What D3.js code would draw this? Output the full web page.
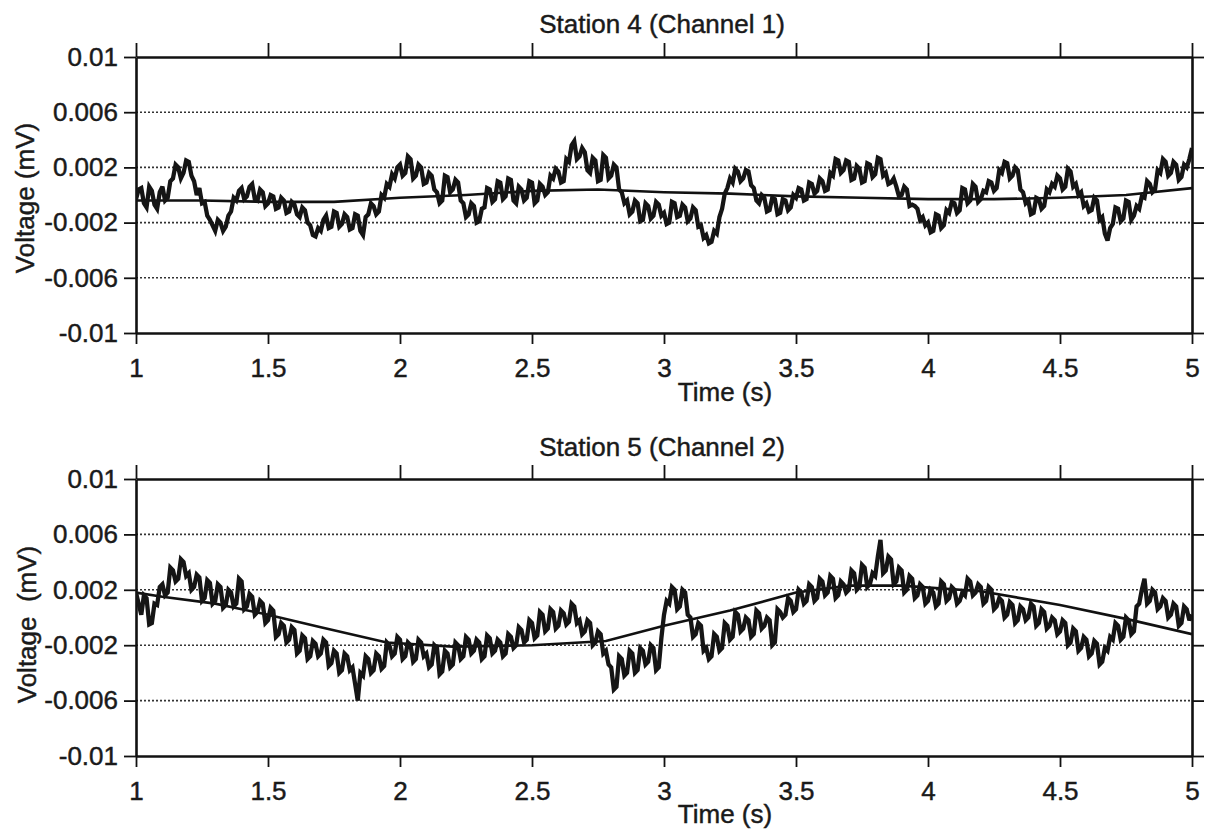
<!DOCTYPE html>
<html>
<head>
<meta charset="utf-8">
<script src="https://cdn.jsdelivr.net/npm/d3@7"></script>
<style>
  body { margin: 0; background: #fff; }
  text { font-family: "Liberation Sans", Arial, Helvetica, sans-serif; fill: #1a1a1a; stroke: #1a1a1a; stroke-width: 0.45px; }
</style>
</head>
<body>
<div id="chart"></div>
<script>
// sampled traces, 1.00 s to 5.00 s every 0.01 s (mV)
var t0 = 1, dt = 0.01;

var station4 = [
  -0.0003, 0.0004, 0.0005, -0.0006, -0.0009, 0.0006, 0.0003, -0.0007, -0.0010, 0.0002,
  0.0006, -0.0004, -0.0002, 0.0010, 0.0012, 0.0022, 0.0020, 0.0012, 0.0016, 0.0025,
  0.0024, 0.0014, 0.0010, 0.0000, 0.0005, -0.0006, -0.0005, -0.0015, -0.0018, -0.0022,
  -0.0026, -0.0018, -0.0020, -0.0026, -0.0023, -0.0015, -0.0012, -0.0002, -0.0004, 0.0003,
  0.0005, -0.0003, -0.0001, 0.0006, 0.0008, -0.0003, -0.0004, 0.0004, 0.0002, -0.0008,
  -0.0006, 0.0000, -0.0001, -0.0010, -0.0009, -0.0002, -0.0004, -0.0013, -0.0012, -0.0005,
  -0.0007, -0.0014, -0.0016, -0.0009, -0.0011, -0.0020, -0.0022, -0.0029, -0.0030, -0.0024,
  -0.0026, -0.0018, -0.0015, -0.0024, -0.0023, -0.0012, -0.0013, -0.0023, -0.0021, -0.0014,
  -0.0016, -0.0025, -0.0024, -0.0014, -0.0015, -0.0026, -0.0029, -0.0016, -0.0014, -0.0006,
  -0.0008, -0.0014, -0.0012, 0.0000, -0.0002, 0.0008, 0.0006, 0.0015, 0.0012, 0.0020,
  0.0022, 0.0014, 0.0016, 0.0028, 0.0026, 0.0012, 0.0014, 0.0022, 0.0020, 0.0008,
  0.0009, 0.0016, 0.0014, 0.0004, 0.0002, -0.0006, -0.0004, 0.0014, 0.0013, 0.0002,
  0.0004, 0.0011, 0.0009, -0.0004, -0.0006, -0.0016, -0.0014, -0.0006, -0.0008, -0.0020,
  -0.0019, -0.0010, -0.0009, 0.0005, 0.0004, -0.0005, -0.0003, 0.0010, 0.0009, -0.0003,
  -0.0001, 0.0012, 0.0011, -0.0004, -0.0006, 0.0006, 0.0004, -0.0004, -0.0002, 0.0010,
  0.0009, -0.0006, -0.0004, 0.0008, 0.0006, 0.0000, 0.0002, 0.0014, 0.0012, 0.0019,
  0.0017, 0.0009, 0.0010, 0.0026, 0.0024, 0.0036, 0.0039, 0.0026, 0.0028, 0.0034,
  0.0031, 0.0018, 0.0016, 0.0027, 0.0025, 0.0010, 0.0011, 0.0029, 0.0027, 0.0012,
  0.0014, 0.0022, 0.0020, 0.0004, 0.0002, -0.0006, -0.0004, -0.0014, -0.0012, -0.0004,
  -0.0006, -0.0019, -0.0018, -0.0006, -0.0008, -0.0017, -0.0015, -0.0005, -0.0007, -0.0015,
  -0.0013, -0.0021, -0.0020, -0.0005, -0.0006, -0.0016, -0.0015, -0.0007, -0.0009, -0.0019,
  -0.0017, -0.0009, -0.0011, -0.0023, -0.0022, -0.0031, -0.0029, -0.0035, -0.0034, -0.0026,
  -0.0028, -0.0016, -0.0010, 0.0001, 0.0005, 0.0012, 0.0009, 0.0019, 0.0017, 0.0010,
  0.0012, 0.0018, 0.0017, 0.0007, 0.0005, -0.0004, -0.0006, 0.0000, -0.0002, -0.0012,
  -0.0011, -0.0002, -0.0003, -0.0014, -0.0013, -0.0003, -0.0004, -0.0011, -0.0009, 0.0000,
  -0.0002, 0.0005, 0.0004, -0.0004, -0.0003, 0.0009, 0.0008, 0.0001, 0.0003, 0.0012,
  0.0010, 0.0003, 0.0004, 0.0016, 0.0014, 0.0026, 0.0025, 0.0016, 0.0018, 0.0025,
  0.0024, 0.0011, 0.0012, 0.0021, 0.0019, 0.0009, 0.0010, 0.0023, 0.0022, 0.0013,
  0.0015, 0.0027, 0.0026, 0.0014, 0.0016, 0.0008, 0.0009, 0.0012, 0.0006, -0.0001,
  0.0000, 0.0006, 0.0004, -0.0008, -0.0007, -0.0008, -0.0010, -0.0018, -0.0016, -0.0022,
  -0.0020, -0.0027, -0.0026, -0.0014, -0.0015, -0.0024, -0.0022, -0.0011, -0.0013, -0.0005,
  -0.0006, -0.0013, -0.0011, 0.0005, 0.0004, -0.0006, -0.0004, 0.0008, 0.0006, -0.0005,
  -0.0003, 0.0003, 0.0002, 0.0010, 0.0009, 0.0003, 0.0005, 0.0018, 0.0016, 0.0024,
  0.0023, 0.0012, 0.0014, 0.0020, 0.0018, 0.0004, 0.0002, -0.0006, -0.0004, -0.0014,
  -0.0013, -0.0002, -0.0003, -0.0010, -0.0008, 0.0004, 0.0002, 0.0008, 0.0006, 0.0014,
  0.0012, 0.0004, 0.0006, 0.0019, 0.0017, 0.0006, 0.0008, 0.0000, 0.0002, -0.0008,
  -0.0006, -0.0012, -0.0011, -0.0002, -0.0004, -0.0018, -0.0016, -0.0028, -0.0033, -0.0024,
  -0.0021, -0.0009, -0.0010, -0.0019, -0.0017, -0.0004, -0.0005, -0.0018, -0.0015, -0.0008,
  -0.0010, -0.0001, -0.0002, 0.0010, 0.0008, 0.0002, 0.0004, 0.0018, 0.0016, 0.0026,
  0.0024, 0.0014, 0.0016, 0.0024, 0.0022, 0.0011, 0.0013, 0.0022, 0.0020, 0.0026,
  0.0034
];

var station5 = [
  0.0018, 0.0010, 0.0002, 0.0016, 0.0014, -0.0005, -0.0004, 0.0010, 0.0009, 0.0022,
  0.0024, 0.0016, 0.0018, 0.0036, 0.0034, 0.0026, 0.0028, 0.0042, 0.0040, 0.0030,
  0.0032, 0.0020, 0.0022, 0.0031, 0.0029, 0.0012, 0.0014, 0.0027, 0.0025, 0.0010,
  0.0012, 0.0024, 0.0022, 0.0007, 0.0009, 0.0020, 0.0018, 0.0008, 0.0010, 0.0028,
  0.0026, 0.0006, 0.0008, 0.0017, 0.0015, 0.0002, 0.0004, 0.0012, 0.0010, -0.0004,
  -0.0002, 0.0007, 0.0005, -0.0014, -0.0012, -0.0004, -0.0006, -0.0018, -0.0016, -0.0007,
  -0.0009, -0.0026, -0.0024, -0.0013, -0.0015, -0.0030, -0.0028, -0.0017, -0.0019, -0.0028,
  -0.0026, -0.0016, -0.0018, -0.0035, -0.0033, -0.0024, -0.0026, -0.0040, -0.0038, -0.0026,
  -0.0028, -0.0038, -0.0036, -0.0048, -0.0060, -0.0040, -0.0042, -0.0028, -0.0030, -0.0040,
  -0.0038, -0.0026, -0.0028, -0.0037, -0.0035, -0.0018, -0.0020, -0.0028, -0.0026, -0.0014,
  -0.0016, -0.0030, -0.0028, -0.0018, -0.0020, -0.0032, -0.0030, -0.0016, -0.0018, -0.0028,
  -0.0026, -0.0036, -0.0034, -0.0020, -0.0022, -0.0041, -0.0039, -0.0024, -0.0026, -0.0036,
  -0.0034, -0.0018, -0.0020, -0.0030, -0.0028, -0.0014, -0.0016, -0.0026, -0.0024, -0.0016,
  -0.0018, -0.0030, -0.0028, -0.0013, -0.0015, -0.0026, -0.0024, -0.0016, -0.0018, -0.0028,
  -0.0026, -0.0012, -0.0014, -0.0022, -0.0020, -0.0007, -0.0009, -0.0018, -0.0016, -0.0002,
  -0.0004, -0.0015, -0.0013, 0.0004, 0.0002, -0.0010, -0.0008, 0.0006, 0.0004, -0.0008,
  -0.0006, 0.0005, 0.0003, -0.0005, -0.0003, 0.0010, 0.0008, -0.0004, -0.0002, -0.0012,
  -0.0010, -0.0002, -0.0004, -0.0020, -0.0018, -0.0010, -0.0012, -0.0026, -0.0024, -0.0034,
  -0.0036, -0.0052, -0.0050, -0.0028, -0.0030, -0.0042, -0.0040, -0.0024, -0.0026, -0.0040,
  -0.0038, -0.0022, -0.0024, -0.0034, -0.0032, -0.0020, -0.0022, -0.0038, -0.0036, -0.0015,
  0.0002, 0.0012, 0.0010, 0.0022, 0.0020, 0.0006, 0.0008, 0.0020, 0.0018, 0.0002,
  0.0000, -0.0014, -0.0012, -0.0004, -0.0006, -0.0024, -0.0022, -0.0030, -0.0028, -0.0012,
  -0.0014, -0.0024, -0.0022, -0.0004, -0.0006, -0.0016, -0.0014, 0.0004, 0.0002, -0.0010,
  -0.0008, 0.0000, -0.0002, -0.0014, -0.0012, 0.0005, 0.0003, -0.0008, -0.0006, 0.0000,
  -0.0002, -0.0020, -0.0018, 0.0006, 0.0004, 0.0000, 0.0002, 0.0014, 0.0012, 0.0004,
  0.0006, 0.0020, 0.0018, 0.0010, 0.0012, 0.0024, 0.0022, 0.0012, 0.0014, 0.0028,
  0.0026, 0.0016, 0.0018, 0.0030, 0.0028, 0.0014, 0.0016, 0.0026, 0.0024, 0.0018,
  0.0020, 0.0034, 0.0032, 0.0020, 0.0022, 0.0038, 0.0036, 0.0022, 0.0024, 0.0032,
  0.0030, 0.0044, 0.0056, 0.0032, 0.0034, 0.0044, 0.0042, 0.0024, 0.0026, 0.0036,
  0.0034, 0.0018, 0.0020, 0.0030, 0.0028, 0.0014, 0.0016, 0.0024, 0.0022, 0.0010,
  0.0012, 0.0020, 0.0018, 0.0008, 0.0010, 0.0026, 0.0024, 0.0012, 0.0014, 0.0022,
  0.0020, 0.0010, 0.0012, 0.0018, 0.0016, 0.0028, 0.0026, 0.0016, 0.0018, 0.0024,
  0.0022, 0.0010, 0.0012, 0.0022, 0.0020, 0.0006, 0.0008, 0.0014, 0.0012, 0.0000,
  0.0002, 0.0011, 0.0009, -0.0004, -0.0002, 0.0008, 0.0006, -0.0002, 0.0000, 0.0010,
  0.0008, -0.0006, -0.0004, 0.0006, 0.0004, -0.0008, -0.0006, 0.0000, -0.0002, -0.0012,
  -0.0010, -0.0002, -0.0004, -0.0020, -0.0018, -0.0008, -0.0010, -0.0024, -0.0022, -0.0014,
  -0.0016, -0.0028, -0.0026, -0.0017, -0.0019, -0.0034, -0.0032, -0.0022, -0.0024, -0.0014,
  -0.0016, -0.0004, -0.0006, -0.0016, -0.0014, 0.0000, -0.0002, -0.0012, -0.0010, 0.0008,
  0.0010, 0.0020, 0.0028, 0.0010, 0.0012, 0.0020, 0.0018, 0.0006, 0.0008, 0.0014,
  0.0012, 0.0000, 0.0002, 0.0010, 0.0008, -0.0006, -0.0004, 0.0008, 0.0006, -0.0002,
  0.0002
];

// smooth fitted curves [time, mV]
var fit4 = [[1, -0.0004], [1.25, -0.0004], [1.5, -0.0005], [1.75, -0.0005], [2, -0.0002],
  [2.25, 0.0000], [2.5, 0.0003], [2.75, 0.0004], [3, 0.0002], [3.25, 0.0001], [3.5, -0.0001],
  [3.75, -0.0002], [4, -0.0003], [4.25, -0.0003], [4.5, -0.0002], [4.75, 0.0000], [5, 0.0005]];
var fit5 = [[1, 0.0018], [1.1, 0.0015], [1.3, 0.0010], [1.5, 0.0002], [1.7, -0.0007],
  [1.95, -0.0018], [2.2, -0.0021], [2.5, -0.0020], [2.78, -0.0017], [3, -0.0006],
  [3.25, 0.0005], [3.5, 0.0018], [3.7, 0.0023], [3.9, 0.0023], [4.2, 0.0019],
  [4.5, 0.0009], [4.75, -0.0001], [5, -0.0012]];

var xTicks = [1, 1.5, 2, 2.5, 3, 3.5, 4, 4.5, 5];
var yTicks = [0.01, 0.006, 0.002, -0.002, -0.006, -0.01];
var yTickLabels = ["0.01", "0.006", "0.002", "-0.002", "-0.006", "-0.01"];
var gridValues = [0.006, 0.002, -0.002, -0.006];

var panels = [
  {title: "Station 4 (Channel 1)", ylab: "Voltage (mV)", trace: station4, fit: fit4,
   top: 57, bottom: 333, titleY: 33, timeY: 401, labX: 25},
  {title: "Station 5 (Channel 2)", ylab: "Voltage  (mV)", trace: station5, fit: fit5,
   top: 479, bottom: 756, titleY: 456, timeY: 823, labX: 27}
];

var width = 1207, height = 835;
var left = 136, right = 1192;

var svg = d3.select("#chart").append("svg")
    .attr("width", width)
    .attr("height", height);

var x = d3.scaleLinear().domain([1, 5]).range([left, right]);

panels.forEach(function(p, k) {
    var y = d3.scaleLinear().domain([-0.01, 0.01]).range([p.bottom, p.top]);
    var g = svg.append("g");

    g.append("clipPath").attr("id", "clip" + k)
      .append("rect")
        .attr("x", left).attr("y", p.top)
        .attr("width", right - left).attr("height", p.bottom - p.top);

    // dotted grid
    g.selectAll(".grid")
        .data(gridValues)
        .enter().append("line")
        .attr("x1", left).attr("x2", right)
        .attr("y1", function(d) { return y(d); })
        .attr("y2", function(d) { return y(d); })
        .attr("stroke", "#333")
        .attr("stroke-width", 1.6)
        .attr("stroke-dasharray", "2,2");

    // axes
    var ax = function(sel) {
        sel.selectAll("path.domain").attr("stroke", "#111").attr("stroke-width", 2.6);
        sel.selectAll(".tick line").attr("stroke", "#111").attr("stroke-width", 1.8);
        sel.selectAll(".tick text").style("font-size", "26px").attr("fill", "#1a1a1a");
    };

    g.append("g")
        .attr("transform", "translate(0," + p.bottom + ")")
        .call(d3.axisBottom(x).tickValues(xTicks).tickSize(11).tickSizeOuter(0)
            .tickPadding(15).tickFormat(d3.format("")))
        .call(ax);

    g.append("g")
        .attr("transform", "translate(0," + p.top + ")")
        .call(d3.axisTop(x).tickValues(xTicks).tickSize(14).tickSizeOuter(0).tickFormat(""))
        .call(ax);

    g.append("g")
        .attr("transform", "translate(" + left + ",0)")
        .call(d3.axisLeft(y).tickValues(yTicks).tickSize(12).tickSizeOuter(0)
            .tickPadding(6).tickFormat(function(d, i) { return yTickLabels[i]; }))
        .call(ax);

    g.append("g")
        .attr("transform", "translate(" + right + ",0)")
        .call(d3.axisRight(y).tickValues(yTicks).tickSize(12).tickSizeOuter(0).tickFormat(""))
        .call(ax);

    g.selectAll(".domain").attr("fill", "none");

    // fitted curve
    var fitLine = d3.line()
        .x(function(d) { return x(d[0]); })
        .y(function(d) { return y(d[1]); });

    g.append("path")
        .datum(p.fit)
        .attr("clip-path", "url(#clip" + k + ")")
        .attr("d", fitLine)
        .attr("fill", "none")
        .attr("stroke", "#111")
        .attr("stroke-width", 2.6);

    // noisy trace
    var traceLine = d3.line()
        .x(function(d, i) { return x(t0 + i * dt); })
        .y(function(d) { return y(d); });

    g.append("path")
        .datum(p.trace)
        .attr("clip-path", "url(#clip" + k + ")")
        .attr("d", traceLine)
        .attr("fill", "none")
        .attr("stroke", "#151515")
        .attr("stroke-width", 4.3)
        .attr("stroke-linejoin", "miter")
        .attr("stroke-miterlimit", 3);

    g.append("text")
        .attr("x", 662).attr("y", p.titleY)
        .attr("text-anchor", "middle")
        .style("font-size", "26px")
        .text(p.title);

    g.append("text")
        .attr("x", 725).attr("y", p.timeY)
        .attr("text-anchor", "middle")
        .style("font-size", "26px")
        .text("Time (s)");

    g.append("text")
        .attr("transform", "translate(" + (p.labX + 9) + "," + ((p.top + p.bottom) / 2 + (k ? 7 : 3)) + ") rotate(-90)")
        .attr("text-anchor", "middle")
        .style("font-size", "26px")
        .style("white-space", "pre")
        .text(p.ylab);
});
</script>
</body>
</html>
